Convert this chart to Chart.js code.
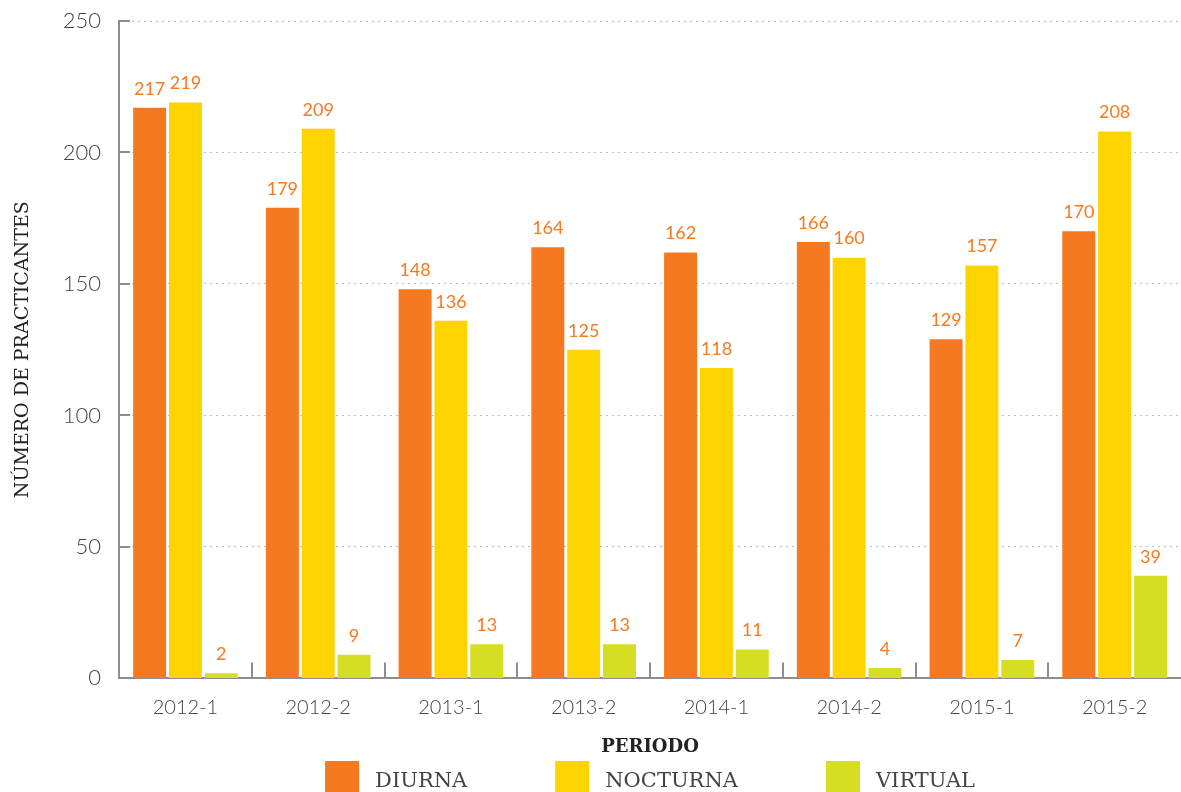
<!DOCTYPE html>
<html>
<head>
<meta charset="utf-8">
<script src="https://cdn.jsdelivr.net/npm/chart.js@4.4.0/dist/chart.umd.min.js"></script>
<style>
  html, body { margin: 0; padding: 0; background: #fff; }
  #chart { display: block; }
</style>
</head>
<body>
<canvas id="chart" width="1181" height="792"></canvas>
<script>
// datos
const periodos = ['2012-1', '2012-2', '2013-1', '2013-2', '2014-1', '2014-2', '2015-1', '2015-2'];
const diurna   = [217, 179, 148, 164, 162, 166, 129, 170];
const nocturna = [219, 209, 136, 125, 118, 160, 157, 208];
const virtual  = [2, 9, 13, 13, 11, 4, 7, 39];
const yTicks   = [0, 50, 100, 150, 200, 250];

const colorEje = '#8c8c91';
const colorEtiqueta = '#f47b20';

// etiquetas de valor encima de las barras
const valoresPlugin = {
    id: 'valores',
    afterDatasetsDraw(chart) {
        const ctx = chart.ctx;
        ctx.save();
        ctx.font = '18px Lato';
        ctx.fillStyle = colorEtiqueta;
        ctx.textAlign = 'center';
        ctx.textBaseline = 'bottom';
        chart.data.datasets.forEach((ds, i) => {
            chart.getDatasetMeta(i).data.forEach((bar, j) => {
                ctx.fillText(ds.data[j], bar.x, bar.y - 10);
            });
        });
        ctx.restore();
    }
};

// marcas cortas de los ejes (hacia dentro)
const marcasPlugin = {
    id: 'marcas',
    afterDraw(chart) {
        const ctx = chart.ctx;
        const area = chart.chartArea;
        const y = chart.scales.y;
        const x = chart.scales.x;
        ctx.save();
        ctx.strokeStyle = colorEje;
        ctx.lineWidth = 2;
        ctx.beginPath();
        yTicks.forEach(v => {
            const py = Math.round(y.getPixelForValue(v));
            ctx.moveTo(area.left, py);
            ctx.lineTo(area.left + 11, py);
        });
        for (let i = 1; i < periodos.length; i++) {
            const px = Math.round((x.getPixelForValue(i - 1) + x.getPixelForValue(i)) / 2);
            ctx.moveTo(px, area.bottom);
            ctx.lineTo(px, area.bottom - 16);
        }
        ctx.stroke();
        ctx.restore();
    }
};

// leyenda propia, centrada sobre el área del gráfico
const leyendaPlugin = {
    id: 'leyenda',
    afterDraw(chart) {
        const ctx = chart.ctx;
        const area = chart.chartArea;
        const caja = 34, altoCaja = 31, sep = 16, hueco = 88;
        ctx.save();
        ctx.font = '21px "DejaVu Serif"';
        ctx.textBaseline = 'middle';
        const items = chart.data.datasets.map(ds => ({
            text: ds.label, color: ds.backgroundColor, w: caja + sep + ctx.measureText(ds.label).width
        }));
        const total = items.reduce((s, it) => s + it.w, 0) + hueco * (items.length - 1);
        let cx = (area.left + area.right) / 2 - total / 2;
        const top = 761;
        items.forEach(it => {
            ctx.fillStyle = it.color;
            ctx.fillRect(cx, top, caja, altoCaja);
            ctx.fillStyle = '#444';
            ctx.fillText(it.text, cx + caja + sep, top + 21);
            cx += it.w + hueco;
        });
        ctx.restore();
    }
};

const ctx = document.getElementById('chart').getContext('2d');
const chart = new Chart(ctx, {
    type: 'bar',
    data: {
        labels: periodos,
        datasets: [
            { label: 'DIURNA', data: diurna, backgroundColor: '#f47920' },
            { label: 'NOCTURNA', data: nocturna, backgroundColor: '#fdd300' },
            { label: 'VIRTUAL', data: virtual, backgroundColor: '#d6de23' }
        ]
    },
    options: {
        responsive: false,
        animation: false,
        layout: { padding: { top: 21, right: 0, bottom: 34, left: 12 } },
        datasets: {
            bar: { categoryPercentage: 0.81, barPercentage: 0.92 }
        },
        plugins: {
            legend: { display: false },
            tooltip: { enabled: false }
        },
        scales: {
            x: {
                grid: { display: false, drawTicks: false },
                border: { color: colorEje, width: 2 },
                ticks: { color: '#444', font: { family: 'Lato', size: 20, weight: 300 }, padding: 17 },
                title: {
                    display: true, text: 'PERIODO', color: '#222',
                    font: { family: 'DejaVu Serif', size: 18, weight: 'bold' },
                    padding: { top: 0, bottom: 0 }
                }
            },
            y: {
                min: 0, max: 250,
                afterBuildTicks(axis) { axis.ticks = yTicks.map(v => ({ value: v })); },
                afterFit(axis) { axis.paddingTop = 0; },
                grid: { color: '#bdbdbd', lineWidth: 1, drawTicks: false },
                border: { color: colorEje, width: 2, dash: [2, 4] },
                ticks: { color: '#444', font: { family: 'Lato', size: 22, weight: 300 }, padding: 18 },
                title: {
                    display: true, text: 'NÚMERO DE PRACTICANTES', color: '#222',
                    font: { family: 'DejaVu Serif', size: 19 },
                    padding: { top: 0, bottom: 10 }
                }
            }
        }
    },
    plugins: [valoresPlugin, marcasPlugin, leyendaPlugin]
});
</script>
</body>
</html>
